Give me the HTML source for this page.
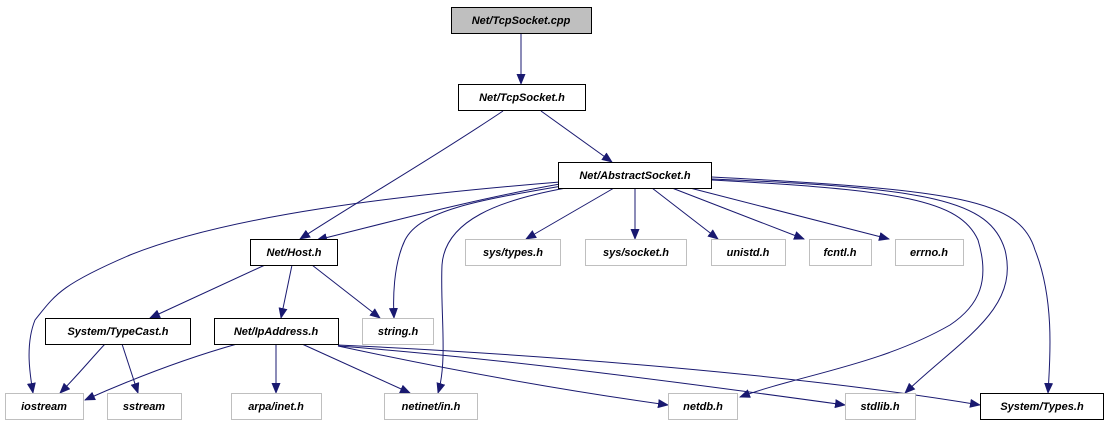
<!DOCTYPE html>
<html><head><meta charset="utf-8"><style>
html,body{margin:0;padding:0;background:#fff;width:1108px;height:427px;overflow:hidden}
text{font-family:"Liberation Sans",sans-serif;font-style:italic;font-weight:bold;font-size:11px;fill:#000}
</style></head><body>
<svg width="1108" height="427" viewBox="0 0 1108 427" xmlns="http://www.w3.org/2000/svg">
<defs><marker id="a" markerWidth="11" markerHeight="9" refX="10" refY="4.5" orient="auto" markerUnits="userSpaceOnUse"><path d="M0,0 L11,4.5 L0,9 z" fill="#191970"/></marker></defs>
<g fill="none" stroke="#191970" stroke-width="1" marker-end="url(#a)">
<path d="M521,33 L521,84"/>
<path d="M503,111 C430,160 360,200 300,239"/>
<path d="M541,111 L612,162"/>
<path d="M560,184 C470,200 390,222 317,240"/>
<path d="M560,182 C400,195 230,215 130,255 C60,285 55,295 35,320 C25,345 30,375 33,393"/>
<path d="M562,186 C480,200 420,210 405,240 C393,265 393,300 394,318"/>
<path d="M566,188 C500,200 445,220 442,265 C440,310 448,360 438,393"/>
<path d="M614,188 L526,239"/>
<path d="M635,188 L635,239"/>
<path d="M652,188 L718,239"/>
<path d="M672,188 L804,239"/>
<path d="M690,188 L889,239"/>
<path d="M712,180 C900,190 960,200 978,240 C990,280 980,305 950,325 C880,365 800,375 740,397"/>
<path d="M712,179 C930,188 990,200 1005,250 C1020,310 960,340 905,393"/>
<path d="M712,177 C960,190 1020,200 1035,250 C1055,300 1050,360 1048,393"/>
<path d="M265,265 L150,318"/>
<path d="M292,265 L281,318"/>
<path d="M312,265 L380,318"/>
<path d="M105,344 C90,360 78,375 60,393"/>
<path d="M122,344 L138,393"/>
<path d="M237,344 C180,360 130,380 85,400"/>
<path d="M276,344 L276,393"/>
<path d="M302,344 L410,393"/>
<path d="M338,346 C450,370 560,390 668,405"/>
<path d="M338,346 C500,358 700,385 845,405"/>
<path d="M338,345 C550,355 800,375 980,405"/>
</g>
<g stroke-width="1">
<rect x="451.5" y="7.5" width="140" height="26" fill="#bfbfbf" stroke="#000"/>
<rect x="458.5" y="84.5" width="127" height="26" fill="#fff" stroke="#000"/>
<rect x="558.5" y="162.5" width="153" height="26" fill="#fff" stroke="#000"/>
<rect x="250.5" y="239.5" width="87" height="26" fill="#fff" stroke="#000"/>
<rect x="465.5" y="239.5" width="95" height="26" fill="#fff" stroke="#bfbfbf"/>
<rect x="585.5" y="239.5" width="101" height="26" fill="#fff" stroke="#bfbfbf"/>
<rect x="711.5" y="239.5" width="74" height="26" fill="#fff" stroke="#bfbfbf"/>
<rect x="809.5" y="239.5" width="62" height="26" fill="#fff" stroke="#bfbfbf"/>
<rect x="895.5" y="239.5" width="68" height="26" fill="#fff" stroke="#bfbfbf"/>
<rect x="45.5" y="318.5" width="145" height="26" fill="#fff" stroke="#000"/>
<rect x="214.5" y="318.5" width="124" height="26" fill="#fff" stroke="#000"/>
<rect x="362.5" y="318.5" width="71" height="26" fill="#fff" stroke="#bfbfbf"/>
<rect x="5.5" y="393.5" width="78" height="26" fill="#fff" stroke="#bfbfbf"/>
<rect x="107.5" y="393.5" width="74" height="26" fill="#fff" stroke="#bfbfbf"/>
<rect x="231.5" y="393.5" width="90" height="26" fill="#fff" stroke="#bfbfbf"/>
<rect x="384.5" y="393.5" width="93" height="26" fill="#fff" stroke="#bfbfbf"/>
<rect x="668.5" y="393.5" width="69" height="26" fill="#fff" stroke="#bfbfbf"/>
<rect x="845.5" y="393.5" width="70" height="26" fill="#fff" stroke="#bfbfbf"/>
<rect x="980.5" y="393.5" width="123" height="26" fill="#fff" stroke="#000"/>
</g>
<g text-anchor="middle">
<text x="521" y="24">Net/TcpSocket.cpp</text>
<text x="522" y="101">Net/TcpSocket.h</text>
<text x="635" y="179">Net/AbstractSocket.h</text>
<text x="294" y="256">Net/Host.h</text>
<text x="513" y="256">sys/types.h</text>
<text x="636" y="256">sys/socket.h</text>
<text x="748" y="256">unistd.h</text>
<text x="840" y="256">fcntl.h</text>
<text x="929" y="256">errno.h</text>
<text x="118" y="335">System/TypeCast.h</text>
<text x="276" y="335">Net/IpAddress.h</text>
<text x="398" y="335">string.h</text>
<text x="44" y="410">iostream</text>
<text x="144" y="410">sstream</text>
<text x="276" y="410">arpa/inet.h</text>
<text x="431" y="410">netinet/in.h</text>
<text x="703" y="410">netdb.h</text>
<text x="880" y="410">stdlib.h</text>
<text x="1042" y="410">System/Types.h</text>
</g>
</svg>
</body></html>
